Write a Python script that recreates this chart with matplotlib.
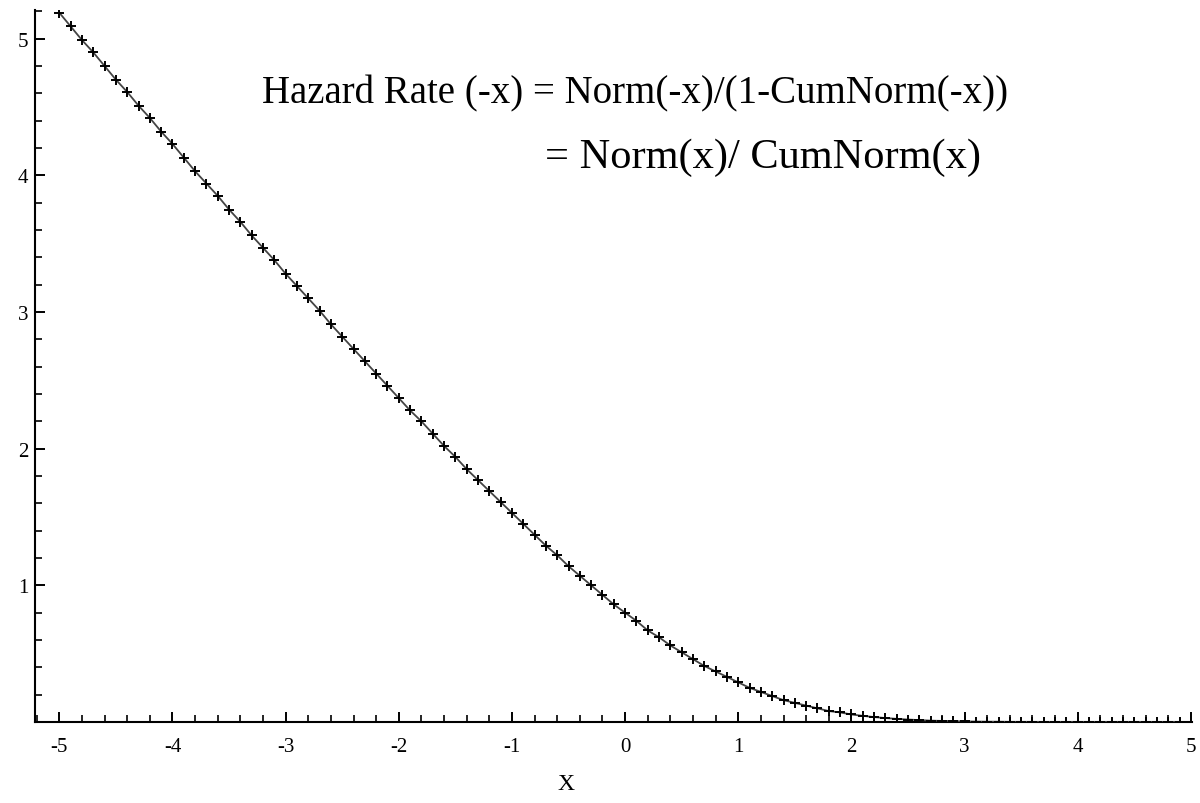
import matplotlib
matplotlib.use("Agg")
import matplotlib.pyplot as plt
from matplotlib.ticker import MultipleLocator

# --- data: one point every 0.1 from -5 to 4.9 ---
x_vals = [-5.0, -4.9, -4.8, -4.7, -4.6, -4.5, -4.4, -4.3, -4.2, -4.1,
          -4.0, -3.9, -3.8, -3.7, -3.6, -3.5, -3.4, -3.3, -3.2, -3.1,
          -3.0, -2.9, -2.8, -2.7, -2.6, -2.5, -2.4, -2.3, -2.2, -2.1,
          -2.0, -1.9, -1.8, -1.7, -1.6, -1.5, -1.4, -1.3, -1.2, -1.1,
          -1.0, -0.9, -0.8, -0.7, -0.6, -0.5, -0.4, -0.3, -0.2, -0.1,
          0.0, 0.1, 0.2, 0.3, 0.4, 0.5, 0.6, 0.7, 0.8, 0.9,
          1.0, 1.1, 1.2, 1.3, 1.4, 1.5, 1.6, 1.7, 1.8, 1.9,
          2.0, 2.1, 2.2, 2.3, 2.4, 2.5, 2.6, 2.7, 2.8, 2.9,
          3.0, 3.1, 3.2, 3.3, 3.4, 3.5, 3.6, 3.7, 3.8, 3.9,
          4.0, 4.1, 4.2, 4.3, 4.4, 4.5, 4.6, 4.7, 4.8, 4.9]
hazard = [5.19, 5.09, 4.99, 4.90, 4.80, 4.70, 4.61, 4.51, 4.42, 4.32,
          4.23, 4.13, 4.03, 3.94, 3.85, 3.75, 3.66, 3.56, 3.47, 3.38,
          3.28, 3.19, 3.10, 3.01, 2.91, 2.82, 2.73, 2.64, 2.55, 2.46,
          2.37, 2.28, 2.20, 2.11, 2.02, 1.94, 1.85, 1.77, 1.69, 1.61,
          1.53, 1.45, 1.37, 1.29, 1.22, 1.14, 1.07, 1.00, 0.93, 0.86,
          0.80, 0.74, 0.67, 0.62, 0.56, 0.51, 0.46, 0.41, 0.37, 0.33,
          0.29, 0.25, 0.22, 0.19, 0.16, 0.14, 0.12, 0.10, 0.08, 0.07,
          0.055, 0.045, 0.036, 0.029, 0.023, 0.018, 0.014, 0.010, 0.008, 0.006,
          0.004, 0.003, 0.002, 0.002, 0.001, 0.001, 0.001, 0.0, 0.0, 0.0,
          0.0, 0.0, 0.0, 0.0, 0.0, 0.0, 0.0, 0.0, 0.0, 0.0]

x_ticks = [-5, -4, -3, -2, -1, 0, 1, 2, 3, 4, 5]
y_ticks = [1, 2, 3, 4, 5]

title_1 = "Hazard Rate (-x) = Norm(-x)/(1-CumNorm(-x))"
title_2 = "= Norm(x)/ CumNorm(x)"

plt.rcParams["font.family"] = ["Liberation Serif", "DejaVu Serif"]
plt.rcParams["axes.unicode_minus"] = False  # plain hyphens like the original

fig = plt.figure(figsize=(12, 8.04), dpi=100)
ax = fig.add_axes([35 / 1200, 1 - 723 / 804, (1192 - 35) / 1200, (723 - 11) / 804])

ax.plot(x_vals, hazard, color="#444444", lw=1.3, marker="+",
        markersize=7, markeredgewidth=1.4, markeredgecolor="black", zorder=3)

ax.set_xlim(-5.215, 5.01)
ax.set_ylim(0, 5.21)

ax.set_xticks(x_ticks)
ax.set_yticks(y_ticks)
ax.xaxis.set_minor_locator(MultipleLocator(0.2))
ax.yaxis.set_minor_locator(MultipleLocator(0.2))

for side in ["top", "right"]:
    ax.spines[side].set_visible(False)
for side in ["left", "bottom"]:
    ax.spines[side].set_linewidth(1.5)

ax.tick_params(which="major", direction="in", length=7.5, width=1.4, labelsize=15)
ax.tick_params(which="minor", direction="in", length=5, width=1.2)
ax.tick_params(axis="x", which="major", pad=11)
ax.tick_params(axis="y", which="major", pad=5)

# the X label sits a little left of the axis centre in the original
ax.set_xlabel("X", fontsize=17)
ax.xaxis.set_label_coords(0.459, -0.072)

fig.text(262 / 1200, 1 - 103 / 804, title_1, fontsize=28, ha="left", va="baseline")
fig.text(545 / 1200, 1 - 168 / 804, title_2, fontsize=30.5, ha="left", va="baseline")

fig.savefig("out.png", dpi=100)
